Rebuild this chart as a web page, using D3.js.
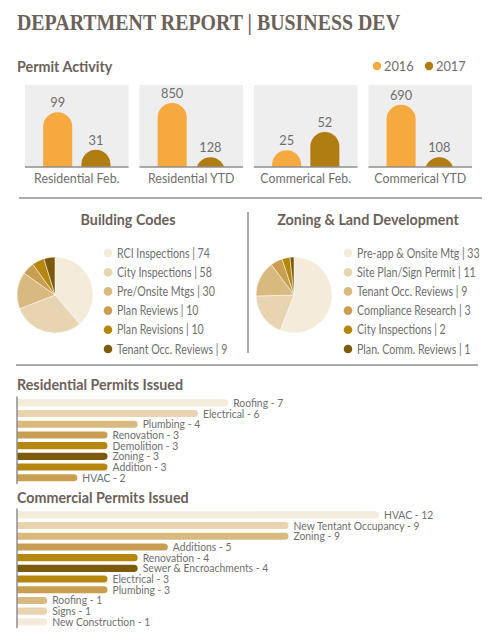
<!DOCTYPE html>
<html><head><meta charset="utf-8">
<script src="https://cdn.jsdelivr.net/npm/d3@7"></script>
<style>
html,body{margin:0;padding:0;background:#fff;}
svg{display:block;font-family:Lato,"Noto Sans",sans-serif;}
</style></head>
<body>
<svg id="c" width="495" height="640"></svg>
<script>
// ---------- DATA ----------
const years = ["2016", "2017"];
const permitCategories = ["Residential Feb.", "Residential YTD", "Commerical Feb.", "Commerical YTD"];
const permit2016 = [99, 850, 25, 690];
const permit2017 = [31, 128, 52, 108];
const panelDomainMax = [148, 1090, 122, 910];

const buildingLabels = ["RCI Inspections", "City Inspections", "Pre/Onsite Mtgs", "Plan Reviews", "Plan Revisions", "Tenant Occ. Reviews"];
const buildingValues = [74, 58, 30, 10, 10, 9];
const zoningLabels = ["Pre-app & Onsite Mtg", "Site Plan/Sign Permit", "Tenant Occ. Reviews", "Compliance Research", "City Inspections", "Plan. Comm. Reviews"];
const zoningValues = [33, 11, 9, 3, 2, 1];

const resLabels = ["Roofing", "Electrical", "Plumbing", "Renovation", "Demolition", "Zoning", "Addition", "HVAC"];
const resValues = [7, 6, 4, 3, 3, 3, 3, 2];
const comLabels = ["HVAC", "New Tentant Occupancy", "Zoning", "Additions", "Renovation", "Sewer & Encroachments", "Electrical", "Plumbing", "Roofing", "Signs", "New Construction"];
const comValues = [12, 9, 9, 5, 4, 4, 3, 3, 1, 1, 1];

// ---------- STYLE ----------
const yearColors = ["#f5a93e", "#b07d12"];
const shades = ["#f4ebdb", "#e8d4b1", "#d8b97f", "#c99e50", "#b6870f", "#7b5a0b"];
const resColorIdx = [0, 1, 2, 3, 4, 5, 4, 3];
const comColorIdx = [0, 1, 2, 3, 4, 5, 4, 3, 2, 1, 0];
const headColor = "#6b6159";
const textColor = "#6e6e6e";
const lineColor = "#8f8f8f";

const svg = d3.select("#c");

// narrow text helper (horizontal squeeze to mimic condensed face)
function ntext(x, y, t, size, sx, anchor) {
  return svg.append("text")
    .attr("transform", `translate(${x},${y}) scale(${sx},1)`)
    .attr("font-size", size).attr("fill", textColor)
    .attr("text-anchor", anchor || "start").text(t);
}

// Title
svg.append("text").attr("x", 17).attr("y", 30)
  .attr("font-family", "'Liberation Serif','DejaVu Serif',serif")
  .attr("font-weight", 700).attr("font-size", 24)
  .attr("fill", headColor)
  .attr("textLength", 383).attr("lengthAdjust", "spacingAndGlyphs")
  .text("DEPARTMENT REPORT  |  BUSINESS DEV");

function heading(x, y, t, anchor) {
  svg.append("text").attr("x", x).attr("y", y)
    .attr("font-weight", 700).attr("font-size", 14.3)
    .attr("fill", headColor).attr("text-anchor", anchor || "start").text(t);
}

// ---------- Permit Activity ----------
heading(17, 72, "Permit Activity");
years.forEach((y, i) => {
  const lx = [377, 429][i];
  svg.append("circle").attr("cx", lx).attr("cy", 66).attr("r", 4.2).attr("fill", yearColors[i]);
  ntext(lx + 7, 70.5, y, 13.5, 0.95);
});

const panelX = d3.scaleBand().domain(permitCategories).range([25, 472]).paddingInner(0.095).paddingOuter(0);
const panelTop = 85, panelBottom = 167;
permitCategories.forEach((cat, i) => {
  const px = panelX(cat), pw = panelX.bandwidth();
  const g = svg.append("g");
  g.append("rect").attr("x", px).attr("y", panelTop).attr("width", pw).attr("height", panelBottom - panelTop).attr("fill", "#efeeee");
  const clipId = "clip" + i;
  svg.append("clipPath").attr("id", clipId).append("rect").attr("x", px).attr("y", panelTop - 20).attr("width", pw).attr("height", panelBottom - panelTop + 20);
  const xb = d3.scaleBand().domain(years).range([px + 9, px + pw - 9]).paddingInner(0.24).paddingOuter(0.24);
  const yS = d3.scaleLinear().domain([0, panelDomainMax[i]]).range([panelBottom, panelTop]);
  const vals = [permit2016[i], permit2017[i]];
  years.forEach((yr, j) => {
    const bw = xb.bandwidth();
    const top = yS(vals[j]);
    g.append("rect").attr("clip-path", `url(#${clipId})`)
      .attr("x", xb(yr)).attr("y", top).attr("width", bw)
      .attr("height", panelBottom - top + bw).attr("rx", bw / 2).attr("ry", bw / 2)
      .attr("fill", yearColors[j]);
    ntext(xb(yr) + bw / 2, top - 5, vals[j], 13.5, 0.95, "middle");
  });
  g.append("line").attr("x1", px).attr("x2", px + pw).attr("y1", panelBottom).attr("y2", panelBottom)
    .attr("stroke", lineColor).attr("stroke-width", 1.5);
  ntext(px + pw / 2, 183, cat, 13.5, 0.92, "middle");
});

svg.append("line").attr("x1", 19).attr("x2", 482).attr("y1", 198).attr("y2", 198).attr("stroke", lineColor).attr("stroke-width", 1.5);

// ---------- Pies ----------
function pieBlock(cx, cy, title, titleX, labels, values, legX) {
  heading(titleX, 225, title, "middle");
  const pie = d3.pie().sort(null).value(d => d)(values);
  const arc = d3.arc().innerRadius(0).outerRadius(38);
  const g = svg.append("g").attr("transform", `translate(${cx},${cy})`);
  g.selectAll("path").data(pie).join("path").attr("d", arc)
    .attr("fill", (d, i) => shades[i]).attr("stroke", "#fff").attr("stroke-width", 0.5);
  const ly = d3.scalePoint().domain(labels).range([253, 349]);
  labels.forEach((l, i) => {
    svg.append("circle").attr("cx", legX).attr("cy", ly(l)).attr("r", 4.3).attr("fill", shades[i]);
    ntext(legX + 9, ly(l) + 4.5, l + " | " + values[i], 12.5, 0.85);
  });
}
pieBlock(55, 295, "Building Codes", 128, buildingLabels, buildingValues, 108);
pieBlock(294, 295, "Zoning & Land Development", 368, zoningLabels, zoningValues, 348);

svg.append("line").attr("x1", 248).attr("x2", 248).attr("y1", 212).attr("y2", 353).attr("stroke", lineColor).attr("stroke-width", 1.5);
svg.append("line").attr("x1", 16).attr("x2", 478).attr("y1", 365).attr("y2", 365).attr("stroke", lineColor).attr("stroke-width", 1.5);

// ---------- Horizontal bars ----------
const xH = d3.scaleLinear().domain([0, 12]).range([17, 17 + 362]);
function hBars(title, titleY, top, labels, values, colorIdx) {
  heading(17, titleY, title);
  const step = 10.7;
  const yB = d3.scaleBand().domain(labels).range([top, top + step * labels.length]).paddingInner(0.34).paddingOuter(0.17);
  const bh = yB.bandwidth();
  labels.forEach((l, i) => {
    const y0 = yB(l);
    const w = xH(values[i]) - xH(0);
    svg.append("path")
      .attr("d", `M${xH(0)},${y0}H${xH(0) + w - bh / 2}A${bh / 2},${bh / 2} 0 0 1 ${xH(0) + w - bh / 2},${y0 + bh}H${xH(0)}Z`)
      .attr("fill", shades[colorIdx[i]]);
    ntext(xH(values[i]) + 5, y0 + bh / 2 + 4, l + " - " + values[i], 11.5, 0.9);
  });
  svg.append("line").attr("x1", 17).attr("x2", 17).attr("y1", top - 1).attr("y2", top + step * labels.length + 1)
    .attr("stroke", lineColor).attr("stroke-width", 1.5);
}
hBars("Residential Permits Issued", 390, 397.5, resLabels, resValues, resColorIdx);
hBars("Commercial Permits Issued", 503, 509.5, comLabels, comValues, comColorIdx);
</script>
</body></html>
